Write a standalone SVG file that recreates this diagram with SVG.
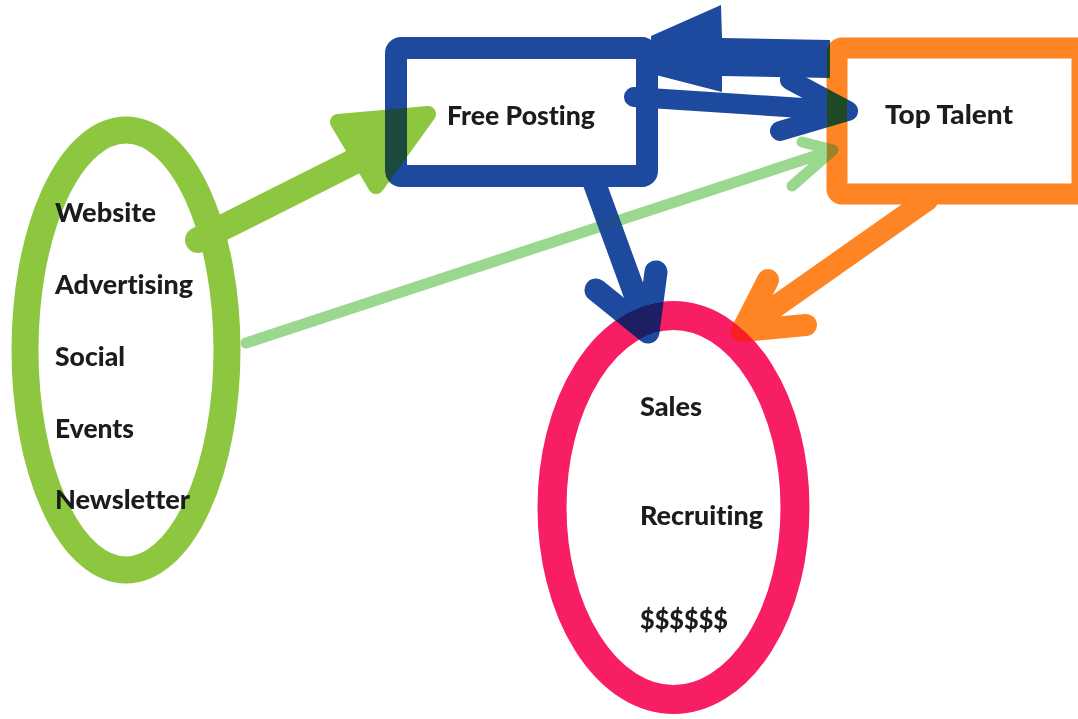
<svg xmlns="http://www.w3.org/2000/svg" width="1078" height="719" viewBox="0 0 1078 719">
  <style>
    .lbl { font-family: "Lato", "Open Sans", "Liberation Sans", sans-serif; font-weight: 900; font-size: 27px; fill: #1c1c1c; font-variant-ligatures: none; font-feature-settings: "liga" 0, "clig" 0; }
    .blend { mix-blend-mode: darken; }
    .stk { fill: none; stroke-linecap: round; stroke-linejoin: round; }
  </style>
  <rect x="0" y="0" width="1078" height="719" fill="#ffffff"/>

  <g id="node-sources">
    <ellipse cx="126" cy="350" rx="101" ry="220" fill="none" stroke="#8dc73f" stroke-width="27"/>
  </g>
  <g id="node-free-posting">
    <rect x="396" y="48" width="251" height="128" rx="5" fill="none" stroke="#1d4a9e" stroke-width="22"/>
  </g>
  <g id="node-top-talent">
    <rect x="837" y="48" width="245" height="146" rx="5" fill="none" stroke="#ff8424" stroke-width="21"/>
  </g>
  <g id="node-outcomes">
    <ellipse cx="673.5" cy="507.5" rx="121.5" ry="192" fill="none" stroke="#f81e64" stroke-width="29"/>
  </g>

  <g id="connectors">
    <!-- faint green: sources -> top talent -->
    <g class="blend">
      <path class="stk" d="M246 343 L833 150 M792 186 L833 150 L802 142" stroke="#9ad890" stroke-width="11"/>
    </g>
    <!-- green: sources -> free posting -->
    <g class="blend">
      <path class="stk" d="M198 240 L385 146" stroke="#8dc73f" stroke-width="26"/>
      <polygon points="338,122 428,114 376,186" fill="#8dc73f" stroke="#8dc73f" stroke-width="16" stroke-linejoin="round"/>
    </g>
    <!-- blue: top talent -> free posting -->
    <g class="blend">
      <polygon points="651,36 721,5 722,38 830,40 830,78 722,76 722,92 652,74" fill="#1d4a9e"/>
    </g>
    <!-- blue: free posting -> top talent -->
    <g class="blend">
      <path class="stk" d="M634 97 L848 111 M790 80 L848 111 L780 131" stroke="#1d4a9e" stroke-width="20"/>
    </g>
    <!-- blue: free posting -> outcomes -->
    <g class="blend">
      <path class="stk" d="M594 182 L648 330 M596 290 L648 332 L656 272" stroke="#1d4a9e" stroke-width="23"/>
    </g>
    <!-- orange: top talent -> outcomes -->
    <g class="blend">
      <path class="stk" d="M927 200 L745 328 M768 280 L742 331 L806 325" stroke="#ff8424" stroke-width="22"/>
    </g>
  </g>

  <g id="labels">
    <text class="lbl" x="55" y="222" textLength="101" lengthAdjust="spacingAndGlyphs">Website</text>
    <text class="lbl" x="55" y="294" textLength="138" lengthAdjust="spacingAndGlyphs">Advertising</text>
    <text class="lbl" x="55" y="366" textLength="70" lengthAdjust="spacingAndGlyphs">Social</text>
    <text class="lbl" x="55" y="438" textLength="79" lengthAdjust="spacingAndGlyphs">Events</text>
    <text class="lbl" x="55" y="509" textLength="135" lengthAdjust="spacingAndGlyphs">Newsletter</text>
    <text class="lbl" x="447" y="125" textLength="148" lengthAdjust="spacingAndGlyphs">Free Posting</text>
    <text class="lbl" x="885" y="124" textLength="128" lengthAdjust="spacingAndGlyphs">Top Talent</text>
    <text class="lbl" x="640" y="416" textLength="62" lengthAdjust="spacingAndGlyphs">Sales</text>
    <text class="lbl" x="640" y="525" textLength="123" lengthAdjust="spacingAndGlyphs">Recruiting</text>
    <text class="lbl" x="640" y="629" textLength="88" lengthAdjust="spacingAndGlyphs">$$$$$$</text>
  </g>
</svg>
